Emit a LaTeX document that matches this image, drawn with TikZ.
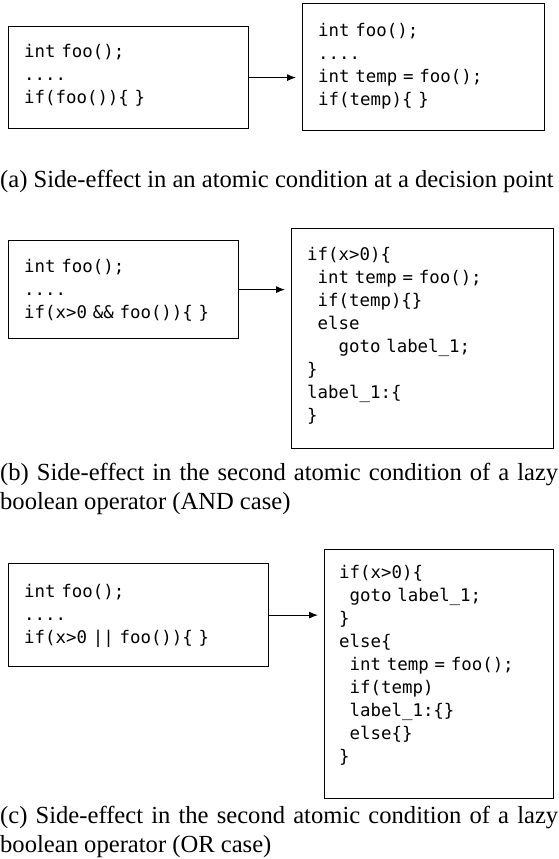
\documentclass[tikz,border=0pt]{standalone}
\usepackage{fontspec}
\setmainfont{Liberation Serif}
\newfontfamily\codefont{DejaVu Sans Mono}
\usetikzlibrary{arrows.meta}
\newcommand\cind{\phantom{x}}
% code font, with a space as wide as a letter
\newcommand\codetext{\codefont\fontsize{17.4pt}{23pt}\selectfont
	\spaceskip=\fontcharwd\font`x\relax\xspaceskip=\spaceskip}

\begin{document}
\begin{tikzpicture}[
		x=1pt, y=-1pt,
		frame/.style = {draw, line width=1.2pt, inner sep=0pt, anchor=north west},
		code/.style = {anchor=base west, inner sep=0pt, text width=240pt, font=\codetext},
		subcap/.style = {anchor=base west, inner sep=0pt, text width=558pt, align=justify,
			font=\fontsize{24.6pt}{28.5pt}\selectfont},
		arr/.style = {-{Latex[length=9pt,width=7pt]}, line width=1pt, shorten >=6pt}
	]
	\useasboundingbox (0,0) rectangle (558,859);
	% Panel (a).
	\node[frame, minimum width=240pt, minimum height=102pt] (a1) at (8,26) {};
	\node[frame, minimum width=242pt, minimum height=127pt] (a2) at (302,3) {};
	\node[code] (a1t) at (24,58) {int foo();\\....\\if(foo())\{ \}};
	\node[code] (a2t) at (318,37) {int foo();\\....\\int temp = foo();\\if(temp)\{ \}};
	\node[subcap] (capa) at (0,187.5) {(a) Side-effect in an atomic condition at a decision point};
	% Panel (b).
	\node[frame, minimum width=230pt, minimum height=98pt] (b1) at (8,240) {};
	\node[frame, minimum width=262pt, minimum height=220pt] (b2) at (291,228) {};
	\node[code] (b1t) at (24,272) {int foo();\\....\\if(x>0 \&\& foo())\{ \}};
	\node[code] (b2t) at (307,260) {if(x>0)\{\\\cind int temp = foo();\\\cind if(temp)\{\}\\\cind else\\
		\cind\cind\cind goto label\_1;\\\}\\label\_1:\{\\\}};
	\node[subcap] (capb) at (0,480.5) {(b) Side-effect in the second atomic condition of a lazy boolean operator (AND case)};
	% Panel (c).
	\node[frame, minimum width=260pt, minimum height=103pt] (c1) at (8,563) {};
	\node[frame, minimum width=229pt, minimum height=249pt] (c2) at (324,549) {};
	\node[code] (c1t) at (24,597) {int foo();\\....\\if(x>0 || foo())\{ \}};
	\node[code] (c2t) at (339,578) {if(x>0)\{\\\cind goto label\_1;\\\}\\else\{\\\cind int temp = foo();\\
		\cind if(temp)\\\cind label\_1:\{\}\\\cind else\{\}\\\}};
	\node[subcap] (capc) at (0,823.5) {(c) Side-effect in the second atomic condition of a lazy boolean operator (OR case)};

	\draw[arr] (a1.east) -- (a1.east -| a2.west);
	\draw[arr] (b1.east) -- (b1.east -| b2.west);
	\draw[arr] (c1.east) -- (c1.east -| c2.west);
\end{tikzpicture}
\end{document}
